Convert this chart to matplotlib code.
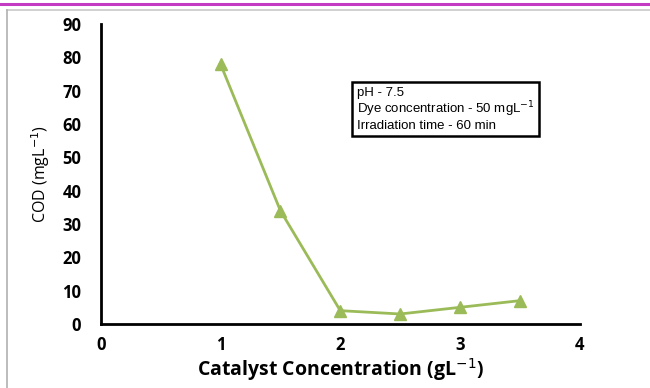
import matplotlib.pyplot as plt
from matplotlib.lines import Line2D

# catalyst dose (g/L) vs residual COD (mg/L)
catalyst = [1, 1.5, 2, 2.5, 3, 3.5]
cod = [78, 34, 4, 3, 5, 7]

x_ticks = [0, 1, 2, 3, 4]
y_ticks = [0, 10, 20, 30, 40, 50, 60, 70, 80, 90]

conditions = ["pH - 7.5",
              "Dye concentration - 50 mgL$^{-1}$",
              "Irradiation time - 60 min"]

fig = plt.figure(figsize=(6.5, 3.88), dpi=100)

# page decorations: magenta rule on top, grey frame lines
fig.add_artist(Line2D([0, 1], [0.989, 0.989], color="#c23bc2", lw=2.2))
fig.add_artist(Line2D([0.011, 1], [0.974, 0.974], color="#c8c8c8", lw=1.2))
fig.add_artist(Line2D([0.011, 0.011], [0, 0.974], color="#b0b0b0", lw=1.2))

ax = fig.add_axes([0.155, 0.165, 0.737, 0.773])
ax.plot(catalyst, cod, color="#9bbb59", lw=2, marker="^", markersize=8.5,
        clip_on=False)

ax.set_xlim(0, 4)
ax.set_ylim(0, 90)
ax.set_xticks(x_ticks)
ax.set_yticks(y_ticks)
ax.tick_params(length=0)
ax.tick_params(axis="y", pad=14)
ax.tick_params(axis="x", pad=9)
for lab in ax.get_xticklabels() + ax.get_yticklabels():
    lab.set_fontfamily("Open Sans")
    lab.set_fontweight("bold")
    lab.set_fontsize(12)

for side in ["top", "right"]:
    ax.spines[side].set_visible(False)
for side in ["left", "bottom"]:
    ax.spines[side].set_linewidth(2)
    ax.spines[side].set_color("black")

ax.set_xlabel("Catalyst Concentration (gL$^{-1}$)", fontfamily="Open Sans",
              fontweight="bold", fontsize=14, labelpad=1)
ax.set_ylabel("COD (mgL$^{-1}$)", fontfamily="Open Sans", fontsize=11.5,
              labelpad=7)

ax.text(0.535, 0.79, "\n".join(conditions), transform=ax.transAxes,
        fontfamily="Liberation Sans", fontsize=9.5, linespacing=1.05,
        va="top", ha="left",
        bbox=dict(boxstyle="square,pad=0.35", fc="white", ec="black", lw=1.8))

fig.savefig("out.png", dpi=100)
